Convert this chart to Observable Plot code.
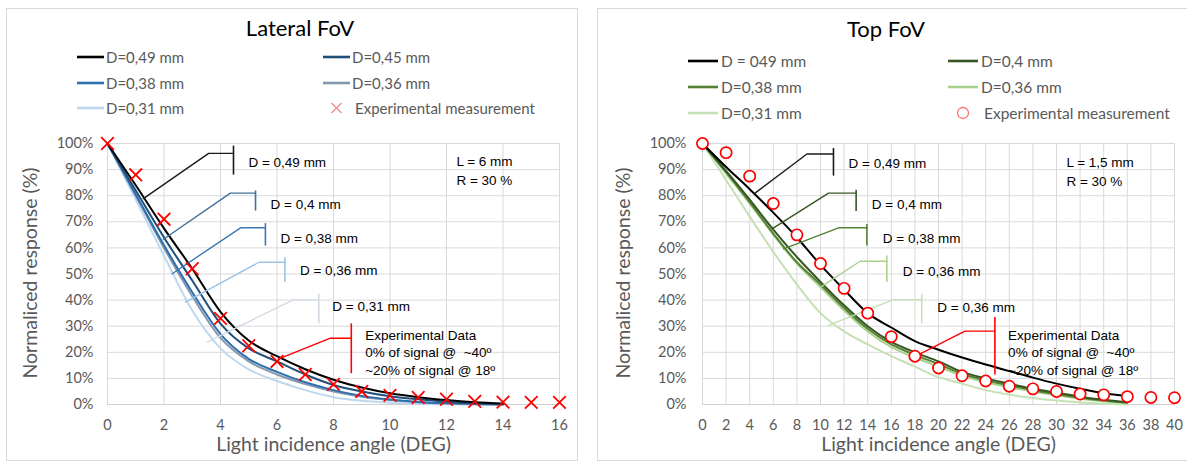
<!DOCTYPE html>
<html>
<head>
<meta charset="utf-8">
<script src="https://cdn.jsdelivr.net/npm/d3@7"></script>
<script src="https://cdn.jsdelivr.net/npm/@observablehq/plot@0.6"></script>
<style>
  html, body { margin: 0; padding: 0; background: #fff; }
  body { width: 1187px; height: 465px; position: relative; overflow: hidden; font-family: Lato, "Open Sans", sans-serif; }
  .panel { position: absolute; border: 1px solid #d9d9d9; box-sizing: border-box; }
  .plotwrap { position: absolute; top: 0; }
  .title { position: absolute; transform: translate(-50%, -50%); font-size: 22px; color: #000; white-space: nowrap; }
  .ytitle { position: absolute; transform: translate(-50%, -50%) rotate(-90deg); font-size: 19.5px; color: #595959; white-space: nowrap; }
  .leg { position: absolute; transform: translateY(-50%); font-size: 15px; color: #595959; white-space: nowrap; display: flex; align-items: center; }
  .leg svg { display: block; }
</style>
</head>
<body>
<div class="panel" style="left:6px;top:8px;width:572px;height:453px"></div>
<div class="panel" style="left:597px;top:8px;width:592px;height:453px"></div>
<div id="plotL" class="plotwrap" style="left:0px"></div>
<div id="plotR" class="plotwrap" style="left:595px"></div>
<div id="overlay"></div>
<script>
// ---------------- DATA ----------------
const yTicks = [0, 10, 20, 30, 40, 50, 60, 70, 80, 90, 100];
const yAxisLabel = "Normaliced response (%)";
const xAxisLabel = "Light incidence angle (DEG)";

// Lateral FoV
const latTitle = "Lateral FoV";
const latXTicks = [0, 2, 4, 6, 8, 10, 12, 14, 16];
const latSeriesNames = ["D=0,49 mm", "D=0,45 mm", "D=0,38 mm", "D=0,36 mm", "D=0,31 mm"];
const latAngles = [0, 1, 2, 3, 4, 5, 6, 7, 8, 9, 10, 11, 12, 13, 14];
const latD049 = [100, 84, 67.5, 52, 35.5, 24.5, 18.5, 13.5, 9.5, 6.5, 4.3, 2.8, 1.7, 0.9, 0.4];
const latD045 = [100, 82, 64, 47.5, 31, 21.5, 16.5, 11.5, 7.5, 5, 3.2, 2, 1.1, 0.5, 0.2];
const latD038 = [100, 80.5, 61, 43, 27, 17.5, 12.5, 8.5, 5.5, 3.3, 1.9, 1, 0.5, 0.2, 0];
const latD036 = [100, 80, 60, 41.5, 25.5, 16.5, 11.5, 7.8, 5, 3, 1.7, 0.9, 0.4, 0.1, 0];
const latD031 = [100, 78.5, 57, 36, 21.5, 13.5, 9, 5.5, 2.8, 1.4, 0.7, 0.3, 0.1, 0, 0];
const latExpName = "Experimental measurement";
const latExpAngles = [0, 1, 2, 3, 4, 5, 6, 7, 8, 9, 10, 11, 12, 13, 14, 15, 16];
const latExp = [100, 88, 71, 52, 33, 22.5, 16.5, 11.5, 7.7, 5, 3.5, 2.7, 2, 1.2, 0.9, 0.8, 0.8];
const latNoteLabels = ["D = 0,49 mm", "D = 0,4 mm", "D = 0,38 mm", "D = 0,36 mm", "D = 0,31 mm",
  "Experimental Data\n0% of signal @ \u00a0~40º\n~20% of signal @ 18º"];
// leader anchors in data units: start (curve), elbow, end of horizontal, bracket top/bottom, label
const latNoteStartX = [1.27, 1.98, 2.29, 2.76, 3.53, 6.06];
const latNoteStartY = [78.9, 63.3, 50.1, 39.2, 23.9, 17.5];
const latNoteElbowX = [3.58, 4.35, 4.71, 5.36, 6.57, 7.89];
const latNoteElbowY = [96.2, 81.0, 67.7, 54.5, 40.1, 25.4];
const latNoteBarX = [4.46, 5.24, 5.59, 6.28, 7.48, 8.63];
const latNoteBarTop = [99.2, 82.0, 69.5, 56.4, 42.4, 31.1];
const latNoteBarBot = [88.1, 74.3, 60.9, 46.9, 31.1, 12.0];
const latNoteTextX = [4.99, 5.77, 6.12, 6.81, 7.96, 9.12];
const latNoteTextY = [93.1, 77.1, 64.1, 51.7, 37.9, 20.3];
const latParams = ["L = 6 mm", "R = 30 %"];
const latParamX = [12.35, 12.35];
const latParamY = [93.1, 85.8];

// Top FoV
const topTitle = "Top FoV";
const topXTicks = [0, 2, 4, 6, 8, 10, 12, 14, 16, 18, 20, 22, 24, 26, 28, 30, 32, 34, 36, 38, 40];
const topSeriesNames = ["D = 049 mm", "D=0,4 mm", "D=0,38 mm", "D=0,36 mm", "D=0,31 mm"];
const topAngles = [0, 2, 4, 6, 8, 10, 12, 14, 16, 18, 20, 22, 24, 26, 28, 30, 32, 34, 36];
const topD049 = [100, 91, 82.5, 73.5, 64, 53.5, 44, 35, 29.5, 24.3, 21, 18, 15.3, 12.8, 10.3, 8, 6, 4.3, 3.2];
const topD040 = [100, 89.5, 78.5, 67, 56.5, 47, 38, 30, 24, 20, 16.5, 12.5, 10, 8, 6, 4.5, 3, 1.8, 0.9];
const topD038 = [100, 89, 77.5, 65.5, 54.5, 46, 37, 29, 23, 19, 15.5, 11.8, 9.3, 7.3, 5.5, 4, 2.6, 1.5, 0.7];
const topD036 = [100, 88.5, 77, 65, 54, 45, 36, 28, 22, 18, 14.5, 11, 8.5, 6.6, 5, 3.5, 2.2, 1.2, 0.5];
const topD031 = [100, 86, 72, 58.5, 46, 35, 28, 23, 18.5, 14.5, 10.5, 8, 5.5, 3.8, 2.5, 1.5, 0.8, 0.3, 0];
const topExpName = "Experimental measurement";
const topExpAngles = [0, 2, 4, 6, 8, 10, 12, 14, 16, 18, 20, 22, 24, 26, 28, 30, 32, 34, 36, 38, 40];
const topExp = [100, 96.5, 87.5, 77, 65, 54, 44.5, 35, 26, 18.5, 14, 11, 9, 7, 6, 5, 4, 3.7, 3, 2.7, 2.6];
const topNoteLabels = ["D = 0,49 mm", "D = 0,4 mm", "D = 0,38 mm", "D = 0,36 mm", "D = 0,36 mm",
  "Experimental Data\n0% of signal @ \u00a0~40º\n~20% of signal @ 18º"];
const topNoteStartX = [4.48, 5.89, 6.88, 9.98, 10.68, 18.44];
const topNoteStartY = [81.1, 67.3, 59.6, 44.9, 30.3, 19.4];
const topNoteElbowX = [8.85, 10.68, 11.53, 13.36, 16.18, 22.24];
const topNoteElbowY = [96.0, 81.0, 67.7, 54.9, 40.2, 28.1];
const topNoteBarX = [11.1, 13.02, 13.93, 15.62, 18.58, 24.78];
const topNoteBarTop = [98.3, 82.3, 69.2, 57.1, 42.4, 33.5];
const topNoteBarBot = [87.7, 74.1, 60.9, 46.9, 31.1, 11.5];
const topNoteTextX = [12.38, 14.35, 15.28, 16.97, 19.9, 25.9];
const topNoteTextY = [92.6, 76.9, 63.9, 51.3, 37.7, 20.3];
const topParams = ["L = 1,5 mm", "R = 30 %"];
const topParamX = [30.84, 30.84];
const topParamY = [92.8, 85.2];

// ---------------- STYLE ----------------
const FONT = "Lato, 'Open Sans', sans-serif";
const NOTE_FONT = "'Liberation Sans', Arial, sans-serif";
const latColors = ["#000000", "#1f4e79", "#2e6fae", "#8497b0", "#bdd7ee"];
const latNoteColors = ["#1a1a1a", "#41719c", "#3a78b5", "#9dc3e6", "#d3dae3", "#ff0000"];
const topColors = ["#000000", "#375623", "#548235", "#a9d18e", "#c5e0b4"];
const topNoteColors = ["#1a1a1a", "#375623", "#548235", "#a9d18e", "#c5e0b4", "#ff0000"];

function rows(xs, ys) { return xs.map((x, i) => ({x, y: ys[i]})); }

function buildPlot(cfg) {
  const marks = [
    Plot.gridX(cfg.xTicks, {stroke: "#d9d9d9", strokeOpacity: 1}),
    Plot.gridY(yTicks, {stroke: "#d9d9d9", strokeOpacity: 1}),
    Plot.frame({stroke: "#d9d9d9"}),
    Plot.ruleY([0], {stroke: "#d0d0d0"}),
    Plot.axisX(cfg.xTicks, {tickSize: 0, tickPadding: 15, fontSize: 14.5, fill: "#595959", label: null}),
    Plot.axisY(yTicks, {tickSize: 0, tickPadding: cfg.yPad, fontSize: 14.5, fill: "#595959", tickFormat: d => d + "%", label: null}),
    Plot.text([xAxisLabel], {text: d => d, frameAnchor: "bottom", dy: 46, fontSize: 19.5, fill: "#595959"})
  ];
  // curves: lightest first, black on top
  for (let s = cfg.series.length - 1; s >= 0; s--) {
    marks.push(Plot.line(rows(cfg.angles, cfg.series[s]), {x: "x", y: "y", stroke: cfg.colors[s], strokeWidth: 2, curve: "monotone-x"}));
  }
  // annotations
  const n = cfg.notes;
  for (let i = 0; i < n.labels.length; i++) {
    const c = cfg.noteColors[i];
    marks.push(Plot.line([{x: n.sx[i], y: n.sy[i]}, {x: n.ex[i], y: n.ey[i]}, {x: n.bx[i], y: n.ey[i]}],
      {x: "x", y: "y", stroke: c, strokeWidth: 1.4}));
    marks.push(Plot.link([0], {x1: () => n.bx[i], x2: () => n.bx[i], y1: () => n.bt[i], y2: () => n.bb[i], stroke: c, strokeWidth: 1.6}));
  }
  marks.push(Plot.text(n.labels.map((t, i) => ({t, x: n.tx[i], y: n.ty[i]})),
    {x: "x", y: "y", text: "t", textAnchor: "start", fontSize: 13.5, lineHeight: 1.3, fontFamily: NOTE_FONT, fill: "#000"}));
  marks.push(Plot.text(cfg.params.map((t, i) => ({t, x: cfg.paramX[i], y: cfg.paramY[i]})),
    {x: "x", y: "y", text: "t", textAnchor: "start", fontSize: 13.5, fontFamily: NOTE_FONT, fill: "#000"}));
  // experimental markers
  if (cfg.marker === "times") {
    marks.push(Plot.dot(rows(cfg.expAngles, cfg.exp), {x: "x", y: "y", symbol: "times", r: 5.8, stroke: "#ff0000", strokeWidth: 1.8}));
  } else {
    marks.push(Plot.dot(rows(cfg.expAngles, cfg.exp), {x: "x", y: "y", symbol: "circle", r: 5.6, stroke: "#ff0000", fill: "#fff", strokeWidth: 1.7}));
  }
  return Plot.plot({
    width: cfg.width, height: 465,
    marginLeft: 107, marginRight: cfg.marginRight, marginTop: 143, marginBottom: 61,
    x: {domain: cfg.xDomain}, y: {domain: [0, 100]},
    style: {background: "transparent", fontFamily: FONT, overflow: "visible"},
    marks
  });
}

document.getElementById("plotL").appendChild(buildPlot({
  width: 590, marginRight: 31, xDomain: [0, 16], xTicks: latXTicks, yPad: 14,
  angles: latAngles, series: [latD049, latD045, latD038, latD036, latD031], colors: latColors,
  expAngles: latExpAngles, exp: latExp, marker: "times",
  notes: {labels: latNoteLabels, sx: latNoteStartX, sy: latNoteStartY, ex: latNoteElbowX, ey: latNoteElbowY,
    bx: latNoteBarX, bt: latNoteBarTop, bb: latNoteBarBot, tx: latNoteTextX, ty: latNoteTextY},
  noteColors: latNoteColors, params: latParams, paramX: latParamX, paramY: latParamY
}));

document.getElementById("plotR").appendChild(buildPlot({
  width: 592, marginRight: 13, xDomain: [0, 40], xTicks: topXTicks, yPad: 16,
  angles: topAngles, series: [topD049, topD040, topD038, topD036, topD031], colors: topColors,
  expAngles: topExpAngles, exp: topExp, marker: "circle",
  notes: {labels: topNoteLabels, sx: topNoteStartX, sy: topNoteStartY, ex: topNoteElbowX, ey: topNoteElbowY,
    bx: topNoteBarX, bt: topNoteBarTop, bb: topNoteBarBot, tx: topNoteTextX, ty: topNoteTextY},
  noteColors: topNoteColors, params: topParams, paramX: topParamX, paramY: topParamY
}));

// ---------------- TITLES & LEGENDS (HTML) ----------------
const overlay = document.getElementById("overlay");
function addText(cls, text, cx, cy) {
  const d = document.createElement("div");
  d.className = cls; d.textContent = text;
  d.style.left = cx + "px"; d.style.top = cy + "px";
  overlay.appendChild(d);
}
function swatchLine(w, color) {
  return `<svg width="${w}" height="8"><line x1="0" x2="${w}" y1="4" y2="4" stroke="${color}" stroke-width="2.6"/></svg>`;
}
function swatchMarker(w, type) {
  const c = w / 2;
  if (type === "times") {
    return `<svg width="${w}" height="14"><path d="M${c-5},2L${c+5},12M${c+5},2L${c-5},12" stroke="#f08a8a" stroke-width="1.3" fill="none"/></svg>`;
  }
  return `<svg width="${w}" height="14"><circle cx="${c}" cy="7" r="5.5" stroke="#ff7070" stroke-width="1.3" fill="#fff"/></svg>`;
}
function addLegend(names, colors, expName, marker, colX, rowY, sw, gap, fontSize) {
  const items = names.map((n, i) => ({label: n, html: swatchLine(sw, colors[i])}));
  items.push({label: expName, html: swatchMarker(sw, marker), marker: true});
  items.forEach((it, i) => {
    const d = document.createElement("div");
    d.className = "leg";
    d.style.left = colX[i % 2] + "px";
    d.style.top = rowY[Math.floor(i / 2)] + "px";
    d.style.fontSize = fontSize + "px";
    d.innerHTML = it.html + `<span style="margin-left:${it.marker ? gap + 3 : gap}px">${it.label}</span>`;
    overlay.appendChild(d);
  });
}
addText("title", latTitle, 300, 27);
addText("title", topTitle, 886, 28);
addText("ytitle", yAxisLabel, 29, 273);
addText("ytitle", yAxisLabel, 622, 273);
addLegend(latSeriesNames, latColors, latExpName, "times", [77, 323], [57, 83, 108], 27, 2, 15);
addLegend(topSeriesNames, topColors, topExpName, "circle", [688, 948], [61, 87, 113], 30, 3, 15.5);
</script>
</body>
</html>
